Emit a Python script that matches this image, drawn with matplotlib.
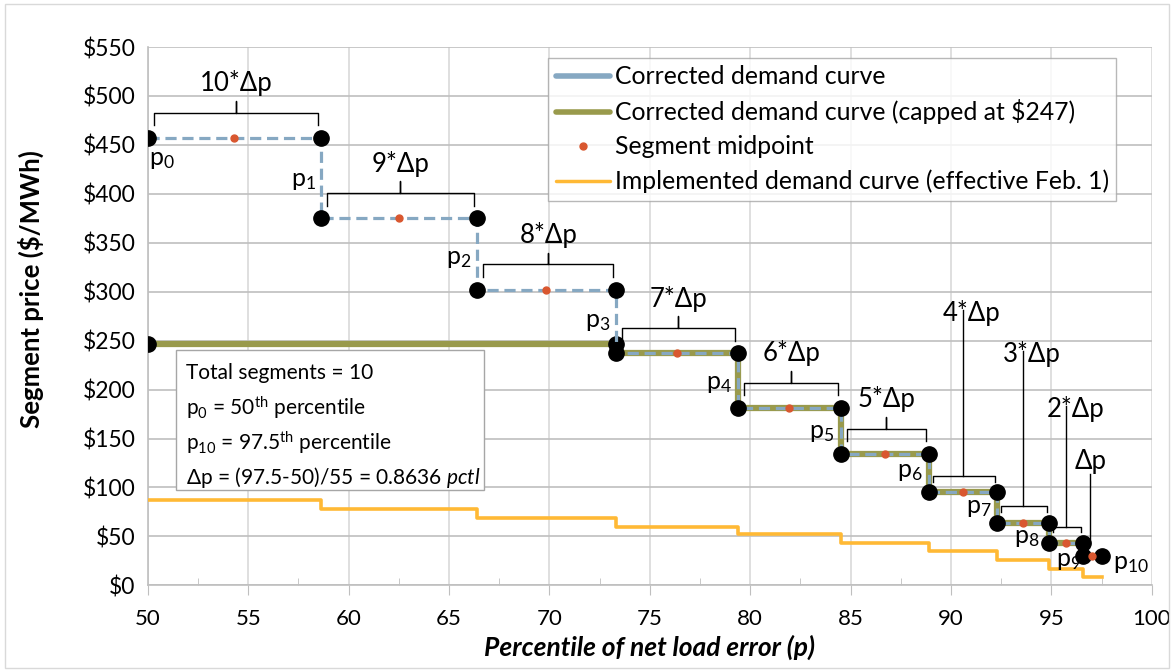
import matplotlib
matplotlib.use('Agg')
import matplotlib.pyplot as plt
from matplotlib.lines import Line2D
from matplotlib.patches import Rectangle
from matplotlib.ticker import FuncFormatter, MultipleLocator

plt.rcParams['font.family'] = ['Lato', 'DejaVu Sans']
plt.rcParams['mathtext.fontset'] = 'custom'
plt.rcParams['mathtext.rm'] = 'Lato'
plt.rcParams['mathtext.it'] = 'Lato:italic'
plt.rcParams['mathtext.bf'] = 'Lato:bold'

# segment boundaries p0..p10 (percentile) and segment prices ($/MWh)
pctl = [50, 58.6, 66.4, 73.3, 79.4, 84.5, 88.9, 92.3, 94.9, 96.6, 97.5]
price = [457, 375, 302, 237, 181, 134, 95, 64, 43, 30]
cap = 247
impl_price = [87, 78, 69, 60, 52, 43, 35, 26, 17, 9]
seg_labels = ['10*Δp', '9*Δp', '8*Δp', '7*Δp', '6*Δp', '5*Δp', '4*Δp', '3*Δp', '2*Δp', 'Δp']
p_labels = [r'p$_{%d}$' % i for i in range(11)]

c_blue = '#86a8c2'
c_olive = '#999a4c'
c_orange = '#ffb935'
c_mid = '#d9572f'

fig = plt.figure(figsize=(11.74, 6.72), dpi=100)
ax = fig.add_axes([0.126, 0.129, 0.855, 0.801])

# capped curve underneath
capped = [min(v, cap) for v in price]
ax.step(pctl, capped + [capped[-1]], where='post', color=c_olive, lw=4.5, zorder=3)
ax.plot([pctl[0], pctl[3]], [cap, cap], 'o', color='black', ms=11, zorder=3.5)

# corrected curve, dashed
ax.step(pctl, price + [price[-1]], where='post', color=c_blue, lw=2.3,
        ls=(0, (3.5, 1.8)), zorder=4)
for i in range(10):
    ax.plot([pctl[i], pctl[i + 1]], [price[i], price[i]], 'o', color='black', ms=11, zorder=5)
    ax.plot((pctl[i] + pctl[i + 1]) / 2, price[i], 'o', color=c_mid, ms=5, zorder=6)

# implemented curve
ax.step(pctl, impl_price + [impl_price[-1]], where='post', color=c_orange, lw=2.6, zorder=4)

# braces over the segments
def brace(x0, x1, y, h=13, n=12):
    xm = (x0 + x1) / 2
    ax.plot([x0, x0, xm, xm, xm, x1, x1], [y - h, y, y, y + n, y, y, y - h],
            color='black', lw=1, zorder=7)

for i in range(6):
    brace(pctl[i] + 0.3, pctl[i + 1] - 0.15, price[i] + 26)
    ax.text((pctl[i] + pctl[i + 1]) / 2 + 0.1, price[i] + 56, seg_labels[i],
            ha='center', va='center', fontsize=18.5)

lead_y = [278, 236, 180]
for k, i in enumerate([6, 7, 8]):
    xm = (pctl[i] + pctl[i + 1]) / 2
    by = price[i] + 17
    brace(pctl[i] + 0.2, pctl[i + 1] - 0.12, by, h=6, n=0)
    ax.plot([xm, xm], [by, lead_y[k] + 3], color='black', lw=1, zorder=7)
    ax.text(xm + 0.45, lead_y[k], seg_labels[i], ha='center', va='center', fontsize=18.5)

xm = (pctl[9] + pctl[10]) / 2 - 0.1
ax.plot([xm, xm], [price[8], 114], color='black', lw=1, zorder=7)
ax.text(xm, 127, seg_labels[9], ha='center', va='center', fontsize=18.5)

# p labels
p_off = [(0.7, -22), (-0.85, -43), (-0.9, -41), (-0.9, -32), (-0.95, -31),
         (-0.92, -25), (-0.95, -18), (-0.9, -16), (-1.1, -15), (-0.75, -18), (1.45, -8)]
for i in range(11):
    top = price[i - 1] if i > 0 else price[0]
    ax.text(pctl[i] + p_off[i][0], top + p_off[i][1], p_labels[i],
            ha='center', va='center', fontsize=18, zorder=8)

# info box
ax.add_patch(Rectangle((0.028, 0.177), 0.307, 0.260, transform=ax.transAxes,
                       fc='white', ec='#a6a6a6', lw=1, zorder=6))
info = ['Total segments = 10',
        r'p$_0$ = 50$^{\mathrm{th}}$ percentile',
        r'p$_{10}$ = 97.5$^{\mathrm{th}}$ percentile',
        r'Δp = (97.5-50)/55 = 0.8636 $\mathit{pctl}$']
for k, s in enumerate(info):
    ax.text(0.038, 0.394 - k * 0.0645, s, transform=ax.transAxes, ha='left',
            va='center', fontsize=15, zorder=7)

# axes styling
ax.set_xlim(50, 100)
ax.set_ylim(0, 550)
ax.xaxis.set_major_locator(MultipleLocator(5))
ax.xaxis.set_minor_locator(MultipleLocator(2.5))
ax.yaxis.set_major_locator(MultipleLocator(50))
ax.yaxis.set_major_formatter(FuncFormatter(lambda v, p: '$%d' % v))
ax.grid(axis='x', color='#d9d9d9', lw=1.2)
ax.grid(axis='y', color='#bfbfbf', lw=1.2)
ax.set_axisbelow(True)
for s in ['top', 'right']:
    ax.spines[s].set_visible(False)
ax.spines['left'].set_color('#bfbfbf')
ax.spines['bottom'].set_color('#bfbfbf')
ax.spines['left'].set_linewidth(1.2)
ax.spines['bottom'].set_linewidth(1.2)
ax.tick_params(axis='x', which='major', length=7, color='#bfbfbf', labelsize=16, pad=10)
ax.tick_params(axis='x', which='minor', length=5, direction='in', color='#bfbfbf')
ax.tick_params(axis='y', length=0, labelsize=16.5, pad=9)
ax.set_ylabel('Segment price ($/MWh)', fontsize=18.5, fontweight='bold')
ax.yaxis.set_label_coords(-0.104, 0.55)
ax.set_xlabel('Percentile of net load error (p)', fontsize=19, fontweight='bold',
              fontstyle='italic', labelpad=4)

handles = [Line2D([], [], color=c_blue, lw=4, solid_capstyle='round'),
           Line2D([], [], color=c_olive, lw=4, solid_capstyle='round'),
           Line2D([], [], color=c_mid, marker='o', ms=5, ls='none'),
           Line2D([], [], color=c_orange, lw=2.5, solid_capstyle='round')]
names = ['Corrected demand curve', 'Corrected demand curve (capped at $247)',
         'Segment midpoint', 'Implemented demand curve (effective Feb. 1)']
leg = ax.legend(handles, names, loc='upper left', bbox_to_anchor=(0.399, 0.98),
                fontsize=17.8, frameon=True, fancybox=False, edgecolor='#a6a6a6',
                handlelength=2.2, handletextpad=0.18, borderpad=0.3,
                labelspacing=0.45, borderaxespad=0)
leg.get_frame().set_linewidth(1)
leg.set_zorder(9)

fig.patches.append(Rectangle((0.004, 0.006), 0.992, 0.988, transform=fig.transFigure,
                             fill=False, ec='#d9d9d9', lw=1))

fig.savefig('out.png', dpi=100)
